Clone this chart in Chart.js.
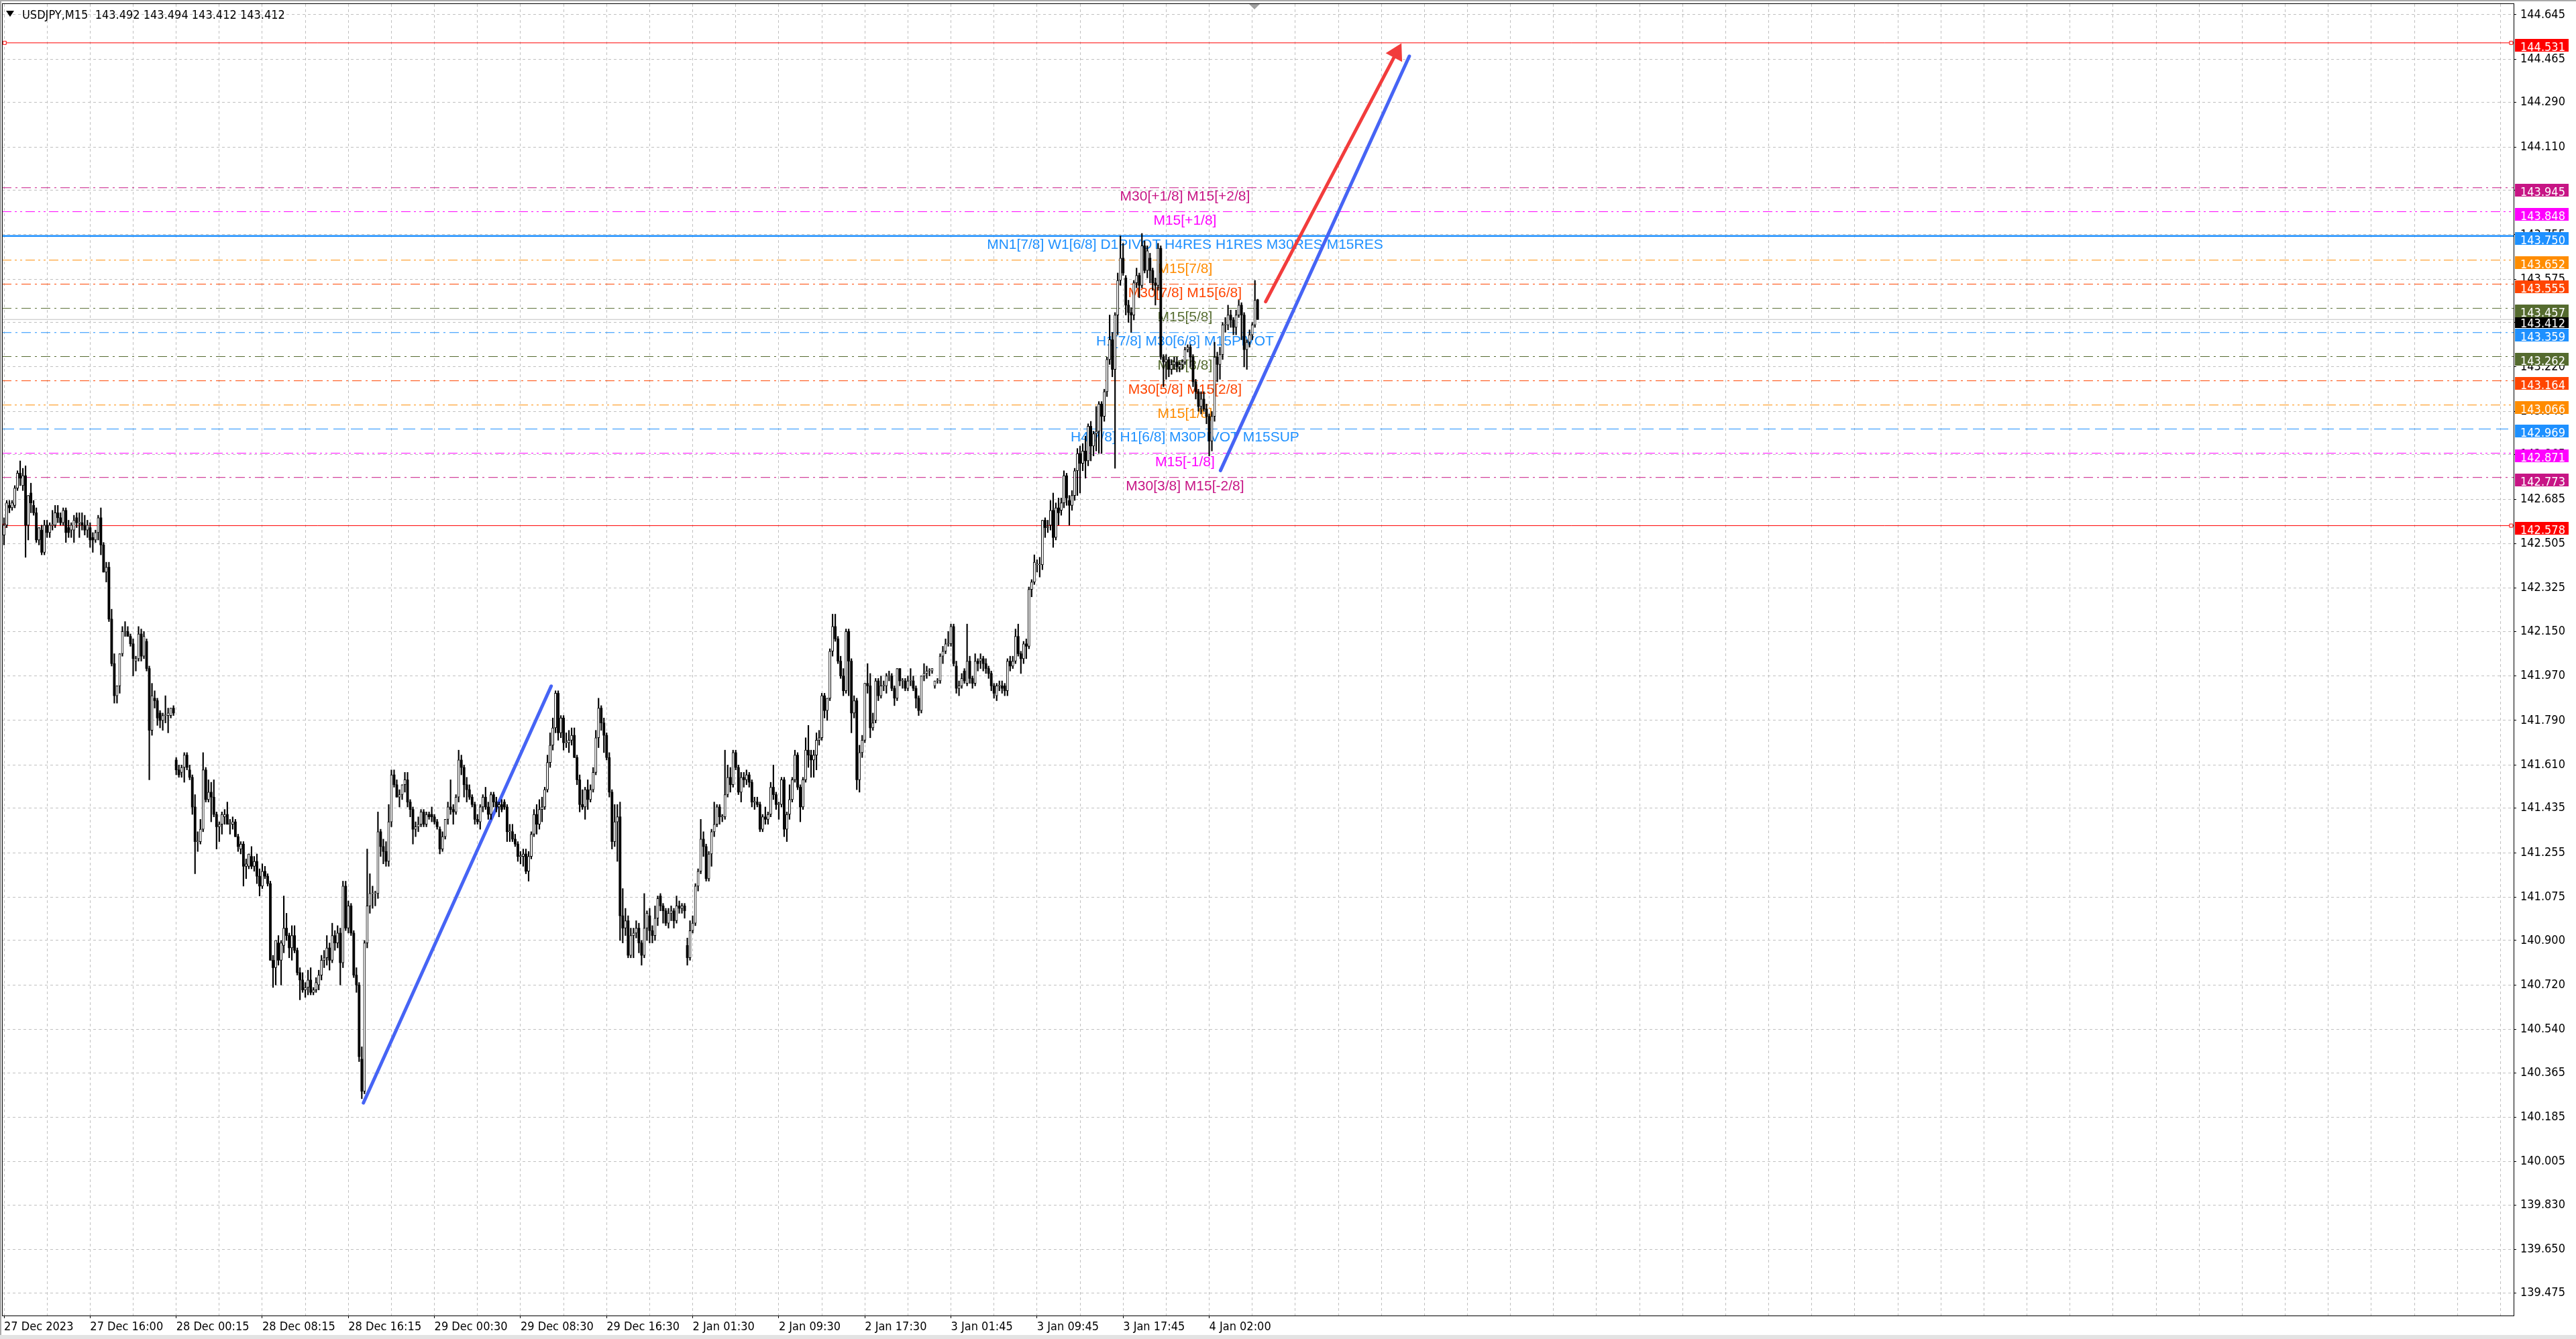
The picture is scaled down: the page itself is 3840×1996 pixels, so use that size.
<!DOCTYPE html>
<html>
<head>
<meta charset="utf-8">
<title>USDJPY,M15</title>
<script src="https://cdn.jsdelivr.net/npm/chart.js@4.4.1/dist/chart.umd.min.js"></script>
<style>
  html, body { margin: 0; padding: 0; background: #fff; overflow: hidden; }
  canvas { display: block; }
</style>
</head>
<body>
<canvas id="chart" width="3840" height="1996"></canvas>
<script>
const chartTitle = 'USDJPY,M15  143.492 143.494 143.412 143.412';

// time axis: one label every 32 bars (8 hours of M15)
const timeLabels = ['27 Dec 2023', '27 Dec 16:00', '28 Dec 00:15', '28 Dec 08:15', '28 Dec 16:15',
  '29 Dec 00:30', '29 Dec 08:30', '29 Dec 16:30', '2 Jan 01:30', '2 Jan 09:30', '2 Jan 17:30',
  '3 Jan 01:45', '3 Jan 09:45', '3 Jan 17:45', '4 Jan 02:00'];

const priceTicks = [144.645, 144.465, 144.290, 144.110, 143.935, 143.755, 143.575, 143.400, 143.220,
  143.040, 142.865, 142.685, 142.505, 142.325, 142.150, 141.970, 141.790, 141.610, 141.435, 141.255,
  141.075, 140.900, 140.720, 140.540, 140.365, 140.185, 140.005, 139.830, 139.650, 139.475];

const opens = [
  142.54,142.58,142.66,142.65,142.66,142.73,142.79,142.74,142.78,142.58,
  142.71,142.66,142.63,142.52,142.56,142.47,142.58,142.55,142.58,142.58,
  142.63,142.61,142.59,142.64,142.57,142.56,142.56,142.61,142.59,142.59,
  142.58,142.56,142.57,142.53,142.52,142.55,142.61,142.50,142.39,142.41,
  142.20,142.02,141.89,141.93,142.06,142.15,142.15,142.13,142.10,142.03,
  142.04,142.14,142.05,142.11,142.00,141.75,141.88,141.87,141.82,141.79,
  141.81,141.81,141.81,141.84,141.63,141.59,141.58,141.60,141.65,141.59,
  141.56,141.44,141.30,141.30,141.35,141.59,141.47,141.50,141.48,141.41,
  141.36,141.37,141.40,141.41,141.37,141.37,141.38,141.32,141.27,141.29,
  141.20,141.20,141.24,141.20,141.22,141.16,141.12,141.18,141.16,141.13,
  140.82,140.79,140.89,140.82,140.88,140.95,140.92,140.87,140.92,140.86,
  140.77,140.74,140.70,140.71,140.74,140.69,140.70,140.72,140.76,140.82,
  140.83,140.87,140.82,140.92,140.89,140.93,140.81,141.12,140.95,141.04,
  140.93,140.76,140.72,140.42,140.29,140.89,141.04,141.09,141.09,141.09,
  141.34,141.28,141.26,141.22,141.38,141.57,141.53,141.48,141.49,141.53,
  141.55,141.46,141.43,141.35,141.36,141.37,141.42,141.37,141.41,141.41,
  141.40,141.38,141.35,141.27,141.32,141.39,141.44,141.43,141.42,141.48,
  141.63,141.60,141.53,141.51,141.48,141.45,141.39,141.38,141.44,141.48,
  141.44,141.41,141.49,141.46,141.44,141.45,141.46,141.44,141.34,141.34,
  141.31,141.29,141.24,141.24,141.25,141.18,141.24,141.33,141.41,141.37,
  141.43,141.44,141.51,141.62,141.69,141.76,141.90,141.74,141.80,141.70,
  141.70,141.71,141.73,141.64,141.55,141.45,141.44,141.51,141.47,141.51,
  141.58,141.72,141.84,141.78,141.73,141.64,141.50,141.30,141.38,141.40,
  141.00,140.95,140.98,140.84,140.92,140.93,140.95,140.89,140.84,140.95,
  141.00,140.94,140.92,140.99,141.08,141.04,141.02,140.97,141.01,141.02,
  140.98,141.04,141.03,141.04,140.88,140.83,140.94,140.97,141.12,141.18,
  141.31,141.28,141.15,141.25,141.34,141.37,141.44,141.40,141.40,141.49,
  141.56,141.53,141.66,141.60,141.50,141.56,141.55,141.57,141.54,141.46,
  141.46,141.45,141.35,141.40,141.39,141.41,141.52,141.49,141.45,141.45,
  141.55,141.35,141.41,141.47,141.55,141.65,141.52,141.44,141.55,141.67,
  141.65,141.63,141.65,141.71,141.72,141.89,141.83,141.88,142.07,142.17,
  142.12,142.03,141.97,141.91,142.15,142.03,141.82,141.87,141.55,141.66,
  141.71,141.94,141.93,141.76,141.79,141.95,141.89,141.93,141.93,141.97,
  141.97,141.92,141.88,142.00,141.95,141.95,141.92,141.95,141.95,141.92,
  141.88,141.83,141.97,141.98,141.99,141.99,141.93,141.95,141.95,142.05,
  142.07,142.10,142.10,142.17,142.01,141.92,141.93,141.99,141.94,142.03,
  141.96,141.94,142.03,142.03,142.04,142.02,142.00,141.98,141.93,141.89,
  141.93,141.93,141.93,141.91,142.03,142.01,142.03,142.13,142.06,142.04,
  142.10,142.09,142.32,142.35,142.42,142.42,142.42,142.60,142.57,142.58,
  142.64,142.53,142.65,142.64,142.67,142.78,142.68,142.66,142.70,142.80,
  142.87,142.83,142.88,142.84,142.98,142.90,142.95,142.96,143.07,143.02,
  143.12,143.25,143.33,143.21,143.43,143.57,143.66,143.58,143.47,143.44,
  143.43,143.56,143.59,143.55,143.71,143.61,143.66,143.61,143.56,143.55,
  143.70,143.26,143.24,143.25,143.21,143.23,143.24,143.22,143.23,143.24,
  143.29,143.30,143.26,143.16,143.12,143.06,143.09,143.05,143.02,142.92,
  143.02,143.26,143.23,143.27,143.39,143.39,143.43,143.41,143.38,143.43,
  143.47,143.43,143.29,143.32,143.35,143.39,143.492
];

const highs = [
  142.61,142.68,142.68,142.68,142.74,142.80,142.84,142.81,142.82,142.70,
  142.75,142.68,142.65,142.57,142.58,142.60,142.60,142.59,142.64,142.66,
  142.66,142.63,142.65,142.65,142.60,142.59,142.62,142.63,142.63,142.63,
  142.62,142.60,142.59,142.55,142.56,142.62,142.65,142.51,142.43,142.43,
  142.24,142.06,141.93,142.06,142.17,142.19,142.17,142.14,142.12,142.05,
  142.17,142.16,142.15,142.12,142.01,141.94,141.91,141.88,141.83,141.82,
  141.89,141.84,141.84,141.85,141.64,141.61,141.61,141.66,141.66,141.61,
  141.57,141.49,141.34,141.39,141.66,141.60,141.55,141.54,141.55,141.42,
  141.38,141.42,141.43,141.46,141.39,141.40,141.39,141.33,141.30,141.30,
  141.23,141.25,141.28,141.24,141.25,141.19,141.21,141.20,141.17,141.14,
  140.84,140.90,140.92,140.90,141.08,141.01,140.93,140.96,140.96,140.87,
  140.79,140.77,140.73,140.78,140.79,140.71,140.75,140.78,140.84,140.86,
  140.92,140.89,140.97,140.94,140.96,140.95,141.14,141.14,141.06,141.05,
  140.94,140.79,140.73,140.47,140.90,141.27,141.17,141.12,141.10,141.42,
  141.35,141.31,141.30,141.45,141.59,141.59,141.55,141.51,141.53,141.58,
  141.58,141.47,141.44,141.38,141.40,141.43,141.43,141.42,141.42,141.44,
  141.41,141.39,141.36,141.34,141.39,141.46,141.55,141.45,141.49,141.67,
  141.65,141.61,141.56,141.53,141.49,141.46,141.41,141.45,141.49,141.52,
  141.46,141.50,141.50,141.48,141.46,141.47,141.47,141.45,141.37,141.37,
  141.33,141.30,141.26,141.27,141.27,141.26,141.34,141.43,141.45,141.47,
  141.48,141.52,141.65,141.74,141.80,141.91,141.91,141.81,141.81,141.74,
  141.75,141.76,141.76,141.65,141.57,141.51,141.52,141.55,141.53,141.60,
  141.75,141.88,141.85,141.80,141.74,141.66,141.51,141.45,141.45,141.46,
  141.11,141.03,141.00,140.95,140.95,140.98,140.97,140.90,141.09,141.02,
  141.03,140.96,141.04,141.08,141.09,141.05,141.03,141.03,141.04,141.03,
  141.08,141.06,141.05,141.05,140.91,140.98,141.00,141.13,141.19,141.39,
  141.34,141.29,141.26,141.35,141.46,141.45,141.45,141.41,141.67,141.61,
  141.60,141.67,141.67,141.61,141.58,141.58,141.59,141.58,141.55,141.48,
  141.48,141.46,141.41,141.44,141.42,141.54,141.61,141.50,141.46,141.56,
  141.56,141.42,141.53,141.56,141.67,141.66,141.53,141.56,141.72,141.77,
  141.67,141.67,141.74,141.75,141.90,141.90,141.88,142.08,142.22,142.22,
  142.13,142.05,142.00,142.16,142.16,142.04,141.89,141.88,141.69,141.73,
  141.94,142.02,141.98,141.82,141.96,141.96,141.97,141.95,141.98,141.99,
  141.98,141.93,142.00,142.00,141.96,141.96,141.97,142.00,141.97,141.93,
  141.89,141.97,142.02,142.01,142.00,142.00,141.95,141.96,142.06,142.09,
  142.12,142.15,142.18,142.18,142.03,141.95,141.98,142.00,142.18,142.05,
  141.97,142.06,142.04,142.06,142.05,142.04,142.01,141.99,141.94,141.94,
  141.95,141.95,141.94,142.04,142.05,142.05,142.16,142.18,142.07,142.11,
  142.12,142.33,142.36,142.46,142.44,142.45,142.60,142.61,142.60,142.68,
  142.71,142.67,142.69,142.69,142.80,142.79,142.70,142.72,142.81,142.89,
  142.90,142.91,142.94,142.99,143.00,142.96,143.06,143.08,143.08,143.13,
  143.26,143.43,143.36,143.44,143.60,143.75,143.72,143.59,143.49,143.46,
  143.57,143.62,143.60,143.76,143.73,143.71,143.68,143.62,143.58,143.72,
  143.71,143.27,143.27,143.26,143.25,143.26,143.26,143.24,143.25,143.30,
  143.31,143.31,143.27,143.17,143.13,143.12,143.12,143.07,143.03,143.04,
  143.32,143.28,143.30,143.40,143.42,143.47,143.45,143.42,143.45,143.49,
  143.48,143.44,143.33,143.37,143.40,143.57,143.494
];

const lows = [
  142.50,142.57,142.63,142.64,142.65,142.72,142.74,142.72,142.45,142.52,
  142.63,142.62,142.51,142.50,142.46,142.46,142.53,142.53,142.56,142.57,
  142.59,142.58,142.58,142.51,142.53,142.53,142.51,142.57,142.53,142.56,
  142.54,142.53,142.49,142.47,142.51,142.52,142.46,142.39,142.35,142.19,
  142.01,141.86,141.86,141.90,142.05,142.13,142.13,142.09,141.97,141.99,
  142.03,142.03,142.04,141.99,141.55,141.73,141.84,141.77,141.76,141.75,
  141.78,141.74,141.80,141.81,141.57,141.56,141.56,141.54,141.59,141.55,
  141.41,141.17,141.26,141.29,141.34,141.46,141.46,141.38,141.40,141.27,
  141.30,141.33,141.37,141.37,141.33,141.35,141.32,141.26,141.25,141.12,
  141.15,141.19,141.19,141.18,141.13,141.08,141.11,141.15,141.12,140.82,
  140.71,140.72,140.80,140.72,140.85,140.90,140.83,140.82,140.85,140.76,
  140.66,140.69,140.67,140.68,140.68,140.68,140.69,140.70,140.74,140.79,
  140.80,140.78,140.81,140.86,140.87,140.72,140.79,140.94,140.93,140.92,
  140.75,140.69,140.41,140.26,140.28,140.87,141.01,141.03,141.04,141.07,
  141.24,141.21,141.20,141.20,141.36,141.52,141.48,141.44,141.47,141.50,
  141.44,141.40,141.29,141.32,141.34,141.36,141.36,141.36,141.39,141.38,
  141.37,141.35,141.25,141.26,141.31,141.37,141.41,141.37,141.41,141.46,
  141.57,141.48,141.46,141.47,141.44,141.37,141.37,141.35,141.42,141.43,
  141.39,141.39,141.44,141.42,141.40,141.42,141.43,141.30,141.30,141.30,
  141.28,141.22,141.21,141.20,141.17,141.14,141.23,141.32,141.33,141.35,
  141.38,141.43,141.50,141.60,141.67,141.74,141.71,141.72,141.67,141.68,
  141.66,141.69,141.64,141.53,141.42,141.43,141.39,141.43,141.46,141.50,
  141.57,141.68,141.75,141.66,141.63,141.48,141.27,141.28,141.22,140.90,
  140.89,140.92,140.83,140.83,140.83,140.91,140.85,140.80,140.83,140.90,
  140.89,140.89,140.90,140.96,141.02,140.97,140.96,140.95,140.98,140.95,
  140.97,141.01,141.01,140.99,140.80,140.82,140.93,140.96,141.10,141.17,
  141.24,141.14,141.14,141.20,141.32,141.36,141.37,141.38,141.39,141.48,
  141.50,141.52,141.59,141.49,141.46,141.52,141.53,141.52,141.44,141.43,
  141.44,141.34,141.34,141.37,141.37,141.40,141.47,141.43,141.39,141.44,
  141.32,141.30,141.39,141.46,141.54,141.51,141.38,141.43,141.54,141.60,
  141.56,141.56,141.59,141.69,141.71,141.80,141.79,141.87,142.05,142.11,
  142.02,141.96,141.89,141.90,141.89,141.74,141.80,141.51,141.50,141.64,
  141.70,141.90,141.72,141.75,141.78,141.87,141.88,141.91,141.90,141.95,
  141.91,141.85,141.87,141.93,141.92,141.91,141.91,141.93,141.91,141.84,
  141.81,141.82,141.95,141.96,141.97,141.98,141.92,141.94,141.94,142.02,
  142.06,142.09,142.09,142.01,141.90,141.89,141.92,141.94,141.93,141.94,
  141.92,141.93,141.99,142.00,141.99,141.98,141.96,141.91,141.88,141.87,
  141.91,141.90,141.89,141.89,141.99,142.00,142.02,142.05,141.98,142.02,
  142.04,142.08,142.29,142.34,142.39,142.37,142.40,142.53,142.55,142.56,
  142.49,142.52,142.58,142.62,142.65,142.66,142.58,142.64,142.68,142.70,
  142.71,142.80,142.77,142.82,142.84,142.86,142.88,142.87,142.87,143.00,
  143.10,143.23,143.18,142.81,143.35,143.55,143.59,143.43,143.40,143.36,
  143.41,143.54,143.50,143.54,143.60,143.58,143.56,143.53,143.47,143.53,
  143.25,143.14,143.17,143.18,143.19,143.21,143.20,143.20,143.21,143.23,
  143.28,143.22,143.14,143.09,143.04,143.03,143.04,142.99,142.86,142.88,
  143.00,143.16,143.17,143.25,143.36,143.37,143.38,143.35,143.35,143.42,
  143.33,143.22,143.21,143.30,143.33,143.38,143.412
];

const closes = [
  142.58,142.67,142.65,142.67,142.73,142.79,142.77,142.78,142.58,142.70,
  142.67,142.63,142.52,142.57,142.47,142.58,142.55,142.58,142.58,142.63,
  142.61,142.59,142.64,142.55,142.55,142.58,142.60,142.59,142.59,142.58,
  142.56,142.58,142.52,142.52,142.55,142.61,142.50,142.39,142.41,142.20,
  142.02,141.89,141.93,142.06,142.15,142.15,142.13,142.10,142.04,142.04,
  142.14,142.05,142.13,142.00,141.75,141.89,141.87,141.80,141.79,141.81,
  141.81,141.82,141.84,141.82,141.59,141.57,141.60,141.65,141.60,141.56,
  141.44,141.30,141.30,141.35,141.59,141.47,141.50,141.48,141.41,141.36,
  141.37,141.41,141.41,141.37,141.37,141.38,141.32,141.28,141.29,141.20,
  141.21,141.25,141.20,141.22,141.16,141.12,141.18,141.16,141.13,140.82,
  140.79,140.90,140.82,140.89,140.95,140.92,140.87,140.92,140.86,140.77,
  140.74,140.70,140.71,140.74,140.69,140.70,140.73,140.76,140.82,140.83,
  140.87,140.82,140.92,140.89,140.93,140.81,141.12,140.95,141.04,140.93,
  140.76,140.72,140.43,140.29,140.89,141.04,141.09,141.09,141.09,141.34,
  141.28,141.26,141.22,141.38,141.57,141.53,141.48,141.49,141.53,141.55,
  141.46,141.43,141.35,141.36,141.37,141.42,141.37,141.41,141.40,141.40,
  141.38,141.36,141.27,141.32,141.39,141.44,141.43,141.42,141.48,141.63,
  141.60,141.53,141.51,141.48,141.45,141.39,141.38,141.44,141.48,141.44,
  141.41,141.49,141.46,141.44,141.45,141.43,141.44,141.34,141.34,141.31,
  141.29,141.24,141.24,141.25,141.18,141.24,141.33,141.41,141.37,141.43,
  141.44,141.51,141.62,141.69,141.76,141.90,141.74,141.80,141.70,141.70,
  141.71,141.73,141.64,141.55,141.45,141.44,141.51,141.47,141.51,141.58,
  141.72,141.84,141.78,141.73,141.64,141.50,141.30,141.38,141.40,141.00,
  140.95,140.98,140.84,140.92,140.93,140.95,140.89,140.84,140.95,141.01,
  140.94,140.92,140.99,141.07,141.04,141.02,140.97,141.01,141.02,140.98,
  141.04,141.03,141.04,141.02,140.83,140.94,140.97,141.12,141.18,141.31,
  141.28,141.15,141.25,141.34,141.37,141.44,141.40,141.40,141.49,141.56,
  141.53,141.66,141.60,141.50,141.56,141.55,141.57,141.54,141.46,141.46,
  141.45,141.35,141.40,141.39,141.41,141.52,141.49,141.45,141.45,141.55,
  141.35,141.41,141.47,141.55,141.65,141.52,141.44,141.55,141.67,141.65,
  141.63,141.65,141.71,141.72,141.89,141.83,141.88,142.07,142.17,142.12,
  142.03,141.97,141.91,142.15,142.03,141.82,141.87,141.55,141.66,141.71,
  141.94,141.93,141.76,141.78,141.95,141.89,141.93,141.93,141.97,141.97,
  141.92,141.88,142.00,141.95,141.95,141.92,141.95,141.95,141.92,141.88,
  141.83,141.97,141.98,141.99,141.99,142.00,141.95,141.95,142.05,142.07,
  142.10,142.10,142.17,142.02,141.92,141.93,141.96,141.95,142.03,141.96,
  141.94,142.03,142.02,142.04,142.02,142.00,141.98,141.93,141.90,141.93,
  141.93,141.92,141.91,142.03,142.01,142.03,142.13,142.06,142.04,142.10,
  142.09,142.32,142.35,142.43,142.42,142.42,142.60,142.57,142.57,142.64,
  142.53,142.65,142.63,142.67,142.78,142.69,142.66,142.70,142.80,142.87,
  142.83,142.88,142.84,142.98,142.90,142.95,142.96,143.07,143.02,143.12,
  143.25,143.33,143.21,143.43,143.57,143.66,143.60,143.47,143.44,143.43,
  143.56,143.59,143.55,143.71,143.61,143.69,143.61,143.56,143.55,143.70,
  143.26,143.24,143.25,143.21,143.23,143.24,143.22,143.23,143.24,143.29,
  143.30,143.26,143.16,143.12,143.06,143.09,143.05,143.02,142.92,143.02,
  143.26,143.23,143.27,143.39,143.39,143.43,143.41,143.38,143.43,143.47,
  143.43,143.29,143.32,143.35,143.39,143.49,143.412
];

// horizontal levels (price, text, colour, line style)
const levelPrices = [144.531, 143.945, 143.848, 143.750, 143.652, 143.555, 143.457, 143.359,
  143.262, 143.164, 143.066, 142.969, 142.871, 142.773, 142.578];
const levelTexts = ['', 'M30[+1/8] M15[+2/8]', 'M15[+1/8]',
  'MN1[7/8] W1[6/8] D1PIVOT H4RES H1RES M30RES M15RES', 'M15[7/8]', 'M30[7/8] M15[6/8]',
  'M15[5/8]', 'H1[7/8] M30[6/8] M15PIVOT', 'M15[3/8]', 'M30[5/8] M15[2/8]', 'M15[1/8]',
  'H4[7/8] H1[6/8] M30PIVOT M15SUP', 'M15[-1/8]', 'M30[3/8] M15[-2/8]', ''];
const levelColors = ['#ff0000', '#c71585', '#ff00ff', '#1e90ff', '#ff8c00', '#ff4500', '#556b2f',
  '#1e90ff', '#556b2f', '#ff4500', '#ff8c00', '#1e90ff', '#ff00ff', '#c71585', '#ff0000'];
const levelStyles = ['solid', 'dashdot', 'dashdotdot', 'thick', 'dashdotdot', 'dashdot', 'dashdot',
  'dashdot', 'dashdot', 'dashdot', 'dashdotdot', 'dash', 'dashdotdot', 'dashdot', 'solid'];
const bidPrice = 143.412;

// trend lines: [bar index, price]
const blueLineA = [[133.6, 140.243], [203.4, 141.929]];
const blueLineB = [[452.2, 142.801], [522.4, 144.477]];
const redArrow = [[469.0, 143.484], [517.6, 144.491]];

const X_MIN = -0.75, X_MAX = 932.9;
const Y_MIN = 139.383, Y_MAX = 144.688;
const LABEL_BAR = 439;

const AXIS_FONT = "'DejaVu Sans Condensed', 'Liberation Sans', Arial, sans-serif";

const dashes = {
  solid: [], thick: [], dash: [18, 8],
  dashdot: [14, 6, 3, 6], dashdotdot: [14, 5, 3, 5, 3, 5]
};

Chart.defaults.font.family = AXIS_FONT;
Chart.defaults.font.size = 18;
Chart.defaults.color = '#000';

const barIdx = closes.map((_, i) => i);
const wickData = barIdx.map(i => ({ x: i, y: [lows[i], highs[i]] }));
const bullData = barIdx.filter(i => closes[i] >= opens[i]).map(i => ({ x: i, y: [opens[i], closes[i]] }));
const bearData = barIdx.filter(i => closes[i] < opens[i]).map(i => ({ x: i, y: [closes[i], opens[i]] }));

const toPts = arr => arr.map(p => ({ x: p[0], y: p[1] }));

const levelSets = levelPrices.map((p, k) => {
  const red = levelStyles[k] === 'solid';
  return {
    type: 'line',
    data: red
      ? [{ x: X_MIN, y: p }, { x: 0.2, y: p }, { x: 932.0, y: p }, { x: X_MAX, y: p }]
      : [{ x: X_MIN, y: p }, { x: X_MAX, y: p }],
    borderColor: levelColors[k],
    borderWidth: levelStyles[k] === 'thick' ? 2.5 : 1,
    borderDash: dashes[levelStyles[k]],
    pointRadius: red ? [0, 3.5, 3.5, 0] : 0,
    pointStyle: 'rect',
    pointBackgroundColor: '#fff',
    pointBorderColor: levelColors[k],
    pointBorderWidth: 1,
    order: 5
  };
});

const bidSet = {
  type: 'line',
  data: [{ x: X_MIN, y: bidPrice }, { x: X_MAX, y: bidPrice }],
  borderColor: '#c0c0c0', borderWidth: 1, pointRadius: 0, order: 6
};

const trendSets = [
  { type: 'line', data: toPts(blueLineA), borderColor: '#4664f5', borderWidth: 5,
    borderCapStyle: 'round', pointRadius: 0, order: 3 },
  { type: 'line', data: toPts(blueLineB), borderColor: '#4664f5', borderWidth: 5,
    borderCapStyle: 'round', pointRadius: 0, order: 3 },
  { type: 'line', data: toPts(redArrow), borderColor: '#f23c3c', borderWidth: 5,
    borderCapStyle: 'round', pointRadius: [0, 11], pointStyle: 'triangle', pointRotation: [0, 28],
    pointBackgroundColor: '#f23c3c', pointBorderColor: '#f23c3c', order: 3 }
];

const candleSets = [
  { type: 'bar', data: wickData, backgroundColor: '#000', barThickness: 1.5, grouped: false, order: 2 },
  { type: 'bar', data: bullData, backgroundColor: '#fff', borderColor: '#000', borderWidth: 1,
    borderSkipped: false, barThickness: 3.2, minBarLength: 1, grouped: false, order: 1 },
  { type: 'bar', data: bearData, backgroundColor: '#000', borderColor: '#000', borderWidth: 0,
    borderSkipped: false, barThickness: 3.2, minBarLength: 1, grouped: false, order: 1 }
];

// price tag: box sits slightly below its line, as in the terminal
function drawTag(ctx, area, y, price, color) {
  const top = Math.round(y) - 6;
  ctx.fillStyle = color;
  ctx.fillRect(area.right + 2, top, 80, 19);
  ctx.fillStyle = '#fff';
  ctx.textAlign = 'left';
  ctx.textBaseline = 'alphabetic';
  ctx.fillText(price.toFixed(3), area.right + 10, top + 18);
}

const mt4Overlay = {
  id: 'mt4Overlay',
  beforeDatasetsDraw(chart) {
    const { ctx, scales: { x, y } } = chart;
    ctx.save();
    ctx.font = "21px 'Liberation Sans', Arial, sans-serif";
    ctx.textAlign = 'center';
    ctx.textBaseline = 'alphabetic';
    levelPrices.forEach((p, k) => {
      if (!levelTexts[k]) return;
      ctx.fillStyle = levelColors[k];
      ctx.fillText(levelTexts[k], x.getPixelForValue(LABEL_BAR), y.getPixelForValue(p) + 19);
    });
    ctx.restore();
  },
  afterDraw(chart) {
    const { ctx, chartArea: a, scales: { y } } = chart;
    ctx.save();
    // frame
    ctx.strokeStyle = '#000';
    ctx.lineWidth = 1;
    ctx.strokeRect(a.left + 0.5, a.top - 0.5, a.right - a.left, a.bottom - a.top + 1);
    // window edges
    ctx.fillStyle = '#a9a9a9';
    ctx.fillRect(0, 0, 3840, 2);
    ctx.fillRect(0, 0, 2, 1990);
    ctx.fillStyle = '#e3e3e3';
    ctx.fillRect(0, 1990, 3840, 6);
    // chart shift marker
    ctx.fillStyle = '#a0a0a0';
    ctx.beginPath();
    ctx.moveTo(1862, a.top); ctx.lineTo(1878, a.top); ctx.lineTo(1870, a.top + 8);
    ctx.closePath(); ctx.fill();
    // price tags
    ctx.font = '18px ' + AXIS_FONT;
    drawTag(ctx, a, y.getPixelForValue(bidPrice), bidPrice, '#000');
    levelPrices.forEach((p, k) => drawTag(ctx, a, y.getPixelForValue(p), p, levelColors[k]));
    // symbol title
    ctx.fillStyle = '#000';
    ctx.beginPath();
    ctx.moveTo(9, 16); ctx.lineTo(21, 16); ctx.lineTo(15, 25);
    ctx.closePath(); ctx.fill();
    ctx.textAlign = 'left';
    ctx.textBaseline = 'alphabetic';
    ctx.fillText(chartTitle, 33, 28);
    ctx.restore();
  }
};

new Chart(document.getElementById('chart'), {
  type: 'bar',
  data: { datasets: [...candleSets, ...trendSets, ...levelSets, bidSet] },
  options: {
    responsive: false,
    animation: false,
    devicePixelRatio: 1,
    events: [],
    layout: { autoPadding: false, padding: { left: 3, top: 6, right: 0, bottom: 0 } },
    plugins: { legend: { display: false }, tooltip: { enabled: false } },
    scales: {
      x: {
        type: 'linear',
        min: X_MIN,
        max: X_MAX,
        bounds: 'data',
        offset: false,
        afterBuildTicks: s => {
          s.ticks = [];
          for (let v = 0; v <= 928; v += 16) s.ticks.push({ value: v });
        },
        afterFit: s => { s.height = 35; s.paddingLeft = 0; s.paddingRight = 0; },
        ticks: {
          autoSkip: false, maxRotation: 0, minRotation: 0, align: 'start', padding: 3,
          font: { size: 18 },
          callback: v => (v % 32 === 0 && v / 32 < timeLabels.length) ? timeLabels[v / 32] : ''
        },
        grid: {
          offset: false, color: '#c0c0c0', lineWidth: 1, tickLength: 4,
          tickColor: c => (c.tick && c.tick.value % 32 === 0 && c.tick.value / 32 < timeLabels.length) ? '#000' : 'rgba(0,0,0,0)'
        },
        border: { display: false, dash: [4, 4] }
      },
      y: {
        type: 'linear',
        position: 'right',
        min: Y_MIN,
        max: Y_MAX,
        bounds: 'data',
        beginAtZero: false,
        afterBuildTicks: s => { s.ticks = priceTicks.map(v => ({ value: v })); },
        afterFit: s => { s.width = 93; s.paddingTop = 0; s.paddingBottom = 0; },
        ticks: { autoSkip: false, padding: 6, font: { size: 18 }, callback: v => Number(v).toFixed(3) },
        grid: { color: '#c0c0c0', lineWidth: 1, tickLength: 4, tickColor: '#000' },
        border: { display: false, dash: [4, 4] }
      }
    }
  },
  plugins: [mt4Overlay]
});
</script>
</body>
</html>
